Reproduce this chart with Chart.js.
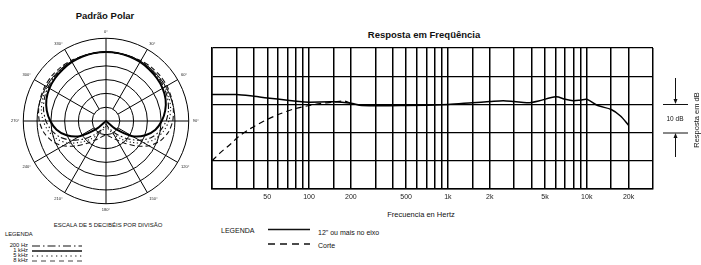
<!DOCTYPE html>
<html><head><meta charset="utf-8">
<script src="https://cdn.jsdelivr.net/npm/chart.js@4.4.1/dist/chart.umd.min.js"></script>
<style>
body{margin:0;width:701px;height:265px;overflow:hidden;background:#fff;font-family:"Liberation Sans",Arial,sans-serif;color:#111;position:relative}
.t{position:absolute;white-space:nowrap;line-height:1}
.c{transform:translate(-50%,-50%)}
.l{transform:translateY(-50%)}
#polarBox{position:absolute;left:10px;top:26.5px;width:190px;height:190px}
#freqBox{position:absolute;left:200px;top:40px;width:480px;height:170px}
svg{position:absolute;left:0;top:0}
</style></head><body>
<script>
// ---- Polar pattern data (dB, relative to on-axis), every 10 degrees ----
const polarAngles = ['0°','10°','20°','30°','40°','50°','60°','70°','80°','90°','100°','110°','120°','130°','140°','150°','160°','170°','180°','190°','200°','210°','220°','230°','240°','250°','260°','270°','280°','290°','300°','310°','320°','330°','340°','350°'];
const polar200Hz = [0,0,0,-0.1,-0.2,-0.4,-0.7,-1.2,-2,-3.2,-5,-7.5,-11,-15,-18.5,-21,-22.5,-23.5,-24,-23.5,-22.5,-21,-18.5,-15,-11,-7.5,-5,-3.2,-2,-1.2,-0.7,-0.4,-0.2,-0.1,0,0];
const polar1kHz  = [0,0,-0.1,-0.3,-0.6,-0.9,-1.3,-2,-3.2,-4.8,-6.8,-9.8,-14,-20.5,-25,-25,-25,-25,-25,-25,-25,-25,-25,-20.5,-14,-9.8,-6.8,-4.8,-3.2,-2,-1.3,-0.9,-0.6,-0.3,-0.1,0];
const polar5kHz  = [0,0,0,0,-0.1,-0.2,-0.3,-0.6,-1.2,-2.2,-3.8,-6,-9,-13,-16.5,-19.5,-21.5,-22.5,-23,-22.5,-21.5,-19.5,-16.5,-13,-9,-6,-3.8,-2.2,-1.2,-0.6,-0.3,-0.2,-0.1,0,0,0];
const polar8kHz  = [0,0,0,0.3,0.5,0.6,0.5,0.2,-0.2,-0.8,-2,-4,-7,-11,-14.5,-17,-18.5,-19.5,-20,-19.5,-18.5,-17,-14.5,-11,-7,-4,-2,-0.8,-0.2,0.2,0.5,0.6,0.5,0.3,0,0];

// ---- Frequency response data ----
const respHz = [20,30,40,50,70,85,100,150,200,240,500,1000,1500,2000,2500,3000,3700,4000,4500,6000,7000,8000,9000,10000,12000,15000,17500,20000];
const respDb = [3.5,3.5,2.9,2.3,1.5,1.0,0.8,0.9,0.4,-0.4,-0.4,0,0.6,1.0,1.3,1.0,0.6,0.7,1.2,2.7,1.8,1.3,1.5,1.8,-0.4,-1.8,-4.1,-7.4];
const cutHz = [20,23,27,31,38,47,60,78,100,120,150,180,200];
const cutDb = [-20,-17.1,-14.2,-11.5,-8.5,-6,-3.6,-1.6,-0.4,0.3,0.8,1.2,0.4];
const gridHz = [20,30,40,50,60,70,80,90,100,150,200,300,400,500,600,700,800,900,1000,1500,2000,3000,4000,5000,6000,7000,8000,9000,10000,15000,20000,30000];
const tickLabelHz = [50,100,200,500,1000,2000,5000,10000,20000];
const tickLabelText = ['50','100','200','500','1k','2k','5k','10k','20k'];
const dbGrid = [-30,-20,-10,0,10,20];
</script>

<div class="t c" style="left:105px;top:16px;font-size:9.5px;font-weight:bold">Padrão Polar</div>
<div id="polarBox"><canvas id="polar" width="190" height="190"></canvas></div>
<div class="t c" style="left:108px;top:225px;font-size:6px">ESCALA DE 5 DECIBÉIS POR DIVISÃO</div>
<div class="t l" style="left:5px;top:235px;font-size:5.8px">LEGENDA</div>
<div class="t l" style="right:673px;top:246px;font-size:5.8px">200 Hz</div>
<div class="t l" style="right:673px;top:251px;font-size:5.8px">1 kHz</div>
<div class="t l" style="right:673px;top:256px;font-size:5.8px">5 kHz</div>
<div class="t l" style="right:673px;top:261px;font-size:5.8px">8 kHz</div>

<div class="t c" style="left:424px;top:34.5px;font-size:9.5px;font-weight:bold">Resposta em Freqüência</div>
<div id="freqBox"><canvas id="freq" width="480" height="170"></canvas></div>
<div class="t c" style="left:421px;top:215px;font-size:7.5px">Frecuencia en Hertz</div>
<div class="t l" style="left:221px;top:230px;font-size:7px">LEGENDA</div>
<div class="t l" style="left:318px;top:231.5px;font-size:7px">12" ou mais no eixo</div>
<div class="t l" style="left:318px;top:245px;font-size:7px">Corte</div>
<div class="t c" style="left:675px;top:119px;font-size:6.5px">10 dB</div>
<div class="t c" style="left:697px;top:120px;font-size:7.5px;transform:translate(-50%,-50%) rotate(-90deg)">Resposta em dB</div>

<svg width="701" height="265">
  <g stroke="#111" fill="none">
    <line x1="32" y1="246" x2="82" y2="246" stroke-width="1.2" stroke-dasharray="8 3 1.5 3"/>
    <line x1="32" y1="251" x2="82" y2="251" stroke-width="1.6"/>
    <line x1="32" y1="256" x2="82" y2="256" stroke-width="1" stroke-dasharray="1.3 3.5"/>
    <line x1="32" y1="261" x2="82" y2="261" stroke-width="0.8" stroke-dasharray="5 4"/>
    <line x1="268" y1="229.5" x2="310" y2="229.5" stroke-width="1.5"/>
    <line x1="268" y1="244" x2="310" y2="244" stroke-width="1.3" stroke-dasharray="7 5"/>
    <line x1="675.5" y1="78" x2="675.5" y2="100"/>
    <line x1="663" y1="104.5" x2="688" y2="104.5"/>
    <line x1="663" y1="133" x2="688" y2="133"/>
    <line x1="675.5" y1="137" x2="675.5" y2="157"/>
  </g>
  <g fill="#111">
    <polygon points="673.5,99 677.5,99 675.5,104"/>
    <polygon points="673.5,138 677.5,138 675.5,133"/>
  </g>
</svg>

<script>
const FONT = '"Liberation Sans", Arial, sans-serif';

new Chart(document.getElementById('polar'), {
  type: 'radar',
  data: {
    labels: polarAngles,
    datasets: [
      {label:'200 Hz', data: polar200Hz, borderColor:'#111', borderWidth:1.1, borderDash:[6,2.5,1.5,2.5], fill:false, pointRadius:0},
      {label:'1 kHz', data: polar1kHz, borderColor:'#000', borderWidth:2, fill:false, pointRadius:0},
      {label:'5 kHz', data: polar5kHz, borderColor:'#111', borderWidth:1.1, borderDash:[1.2,2.5], fill:false, pointRadius:0},
      {label:'8 kHz', data: polar8kHz, borderColor:'#111', borderWidth:1.1, borderDash:[5,3], fill:false, pointRadius:0}
    ]
  },
  options: {
    responsive:false, animation:false,
    plugins:{legend:{display:false}, tooltip:{enabled:false}},
    elements:{line:{tension:0.25}},
    scales:{
      r:{
        min:-25, max:5,
        ticks:{display:false, stepSize:5},
        grid:{circular:true, color:'#000', lineWidth:1},
        angleLines:{
          display:true,
          color:(c)=> c.index % 3 === 0 ? '#000' : 'rgba(0,0,0,0)',
          lineWidth:1,
          borderDash:(c)=> (c.index % 9 === 0) ? [] : [0, c.scale.getDistanceFromCenterForValue(-20), 1000]
        },
        pointLabels:{
          font:{size:4, family:FONT}, color:'#222', padding:4,
          callback:(l,i)=> i % 3 === 0 ? l : ''
        }
      }
    }
  }
});

new Chart(document.getElementById('freq'), {
  type: 'line',
  data: {
    datasets: [
      {label:'12" ou mais no eixo', data: respHz.map((f,i)=>({x:f, y:respDb[i]})), borderColor:'#000', borderWidth:1.5, pointRadius:0, tension:0.3, fill:false},
      {label:'Corte', data: cutHz.map((f,i)=>({x:f, y:cutDb[i]})), borderColor:'#000', borderWidth:1.2, borderDash:[6,4], pointRadius:0, tension:0.3, fill:false}
    ]
  },
  options: {
    responsive:false, animation:false,
    layout:{padding:{left:12, right:27, top:8, bottom:0}},
    plugins:{legend:{display:false}, tooltip:{enabled:false}},
    scales:{
      x:{
        type:'logarithmic', min:20, max:30000,
        afterBuildTicks:(s)=>{ s.ticks = gridHz.map(v=>({value:v})); },
        afterFit:(s)=>{ s.height = 21; },
        grid:{color:'#000', lineWidth:1.5, drawTicks:false},
        border:{color:'#000', width:1.5},
        ticks:{
          autoSkip:false, maxRotation:0, padding:4, color:'#222',
          font:{size:7, family:FONT},
          callback:(v)=>{ const k = tickLabelHz.indexOf(v); return k >= 0 ? tickLabelText[k] : ''; }
        }
      },
      y:{
        min:-30, max:20,
        afterBuildTicks:(s)=>{ s.ticks = dbGrid.map(v=>({value:v})); },
        afterFit:(s)=>{ s.width = 0; },
        grid:{color:'#000', lineWidth:1.2, drawTicks:false},
        border:{color:'#000', width:1.5},
        ticks:{display:false}
      }
    }
  }
});
</script>
</body></html>
